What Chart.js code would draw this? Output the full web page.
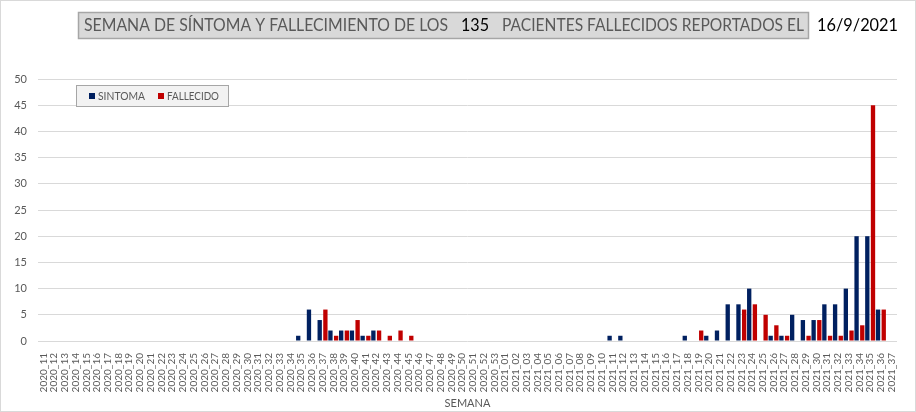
<!DOCTYPE html>
<html>
<head>
<meta charset="utf-8">
<script src="https://cdn.jsdelivr.net/npm/chart.js"></script>
<style>
  html, body { margin: 0; padding: 0; background: #fff; }
</style>
</head>
<body>
<canvas id="grafico" width="916" height="412"></canvas>
<script>
// semanas epidemiologicas (eje x)
const semanas = [
  '2020_11','2020_12','2020_13','2020_14','2020_15','2020_16','2020_17','2020_18','2020_19','2020_20',
  '2020_21','2020_22','2020_23','2020_24','2020_25','2020_26','2020_27','2020_28','2020_29','2020_30',
  '2020_31','2020_32','2020_33','2020_34','2020_35','2020_36','2020_37','2020_38','2020_39','2020_40',
  '2020_41','2020_42','2020_43','2020_44','2020_45','2020_46','2020_47','2020_48','2020_49','2020_50',
  '2020_51','2020_52','2020_53','2021_01','2021_02','2021_03','2021_04','2021_05','2021_06','2021_07',
  '2021_08','2021_09','2021_10','2021_11','2021_12','2021_13','2021_14','2021_15','2021_16','2021_17',
  '2021_18','2021_19','2021_20','2021_21','2021_22','2021_23','2021_24','2021_25','2021_26','2021_27',
  '2021_28','2021_29','2021_30','2021_31','2021_32','2021_33','2021_34','2021_35','2021_36','2021_37'
];

const sintoma = [
  0, 0, 0, 0, 0, 0, 0, 0, 0, 0,
  0, 0, 0, 0, 0, 0, 0, 0, 0, 0,
  0, 0, 0, 0, 1, 6, 4, 2, 2, 2,
  1, 2, 0, 0, 0, 0, 0, 0, 0, 0,
  0, 0, 0, 0, 0, 0, 0, 0, 0, 0,
  0, 0, 0, 1, 1, 0, 0, 0, 0, 0,
  1, 0, 1, 2, 7, 7, 10, 0, 1, 1,
  5, 4, 4, 7, 7, 10, 20, 20, 6, 0
];

const fallecido = [
  0, 0, 0, 0, 0, 0, 0, 0, 0, 0,
  0, 0, 0, 0, 0, 0, 0, 0, 0, 0,
  0, 0, 0, 0, 0, 0, 6, 1, 2, 4,
  1, 2, 1, 2, 1, 0, 0, 0, 0, 0,
  0, 0, 0, 0, 0, 0, 0, 0, 0, 0,
  0, 0, 0, 0, 0, 0, 0, 0, 0, 0,
  0, 2, 0, 0, 0, 6, 7, 5, 3, 1,
  0, 1, 4, 1, 1, 2, 3, 45, 6, 0
];

const totalPacientes = '135';
const fechaReporte = '16/9/2021';

const gris = '#595959';
const fuente = 'Lato';

// fondo, marco, titulo y leyenda dibujados a mano
const marco = {
  id: 'marco',
  beforeDraw(chart) {
    const c = chart.ctx;
    c.save();
    c.fillStyle = '#fff';
    c.fillRect(0, 0, chart.width, chart.height);
    c.strokeStyle = '#d9d9d9';
    c.lineWidth = 1;
    c.strokeRect(0.5, 0.5, chart.width - 1, chart.height - 1);
    c.restore();
  },
  afterDraw(chart) {
    const c = chart.ctx;
    c.save();
    // caja del titulo
    c.fillStyle = '#d9d9d9';
    c.fillRect(78, 12, 731, 26);
    c.strokeStyle = '#a6a6a6';
    c.lineWidth = 1.5;
    c.strokeRect(78.5, 12.5, 730, 26);
    c.textBaseline = 'middle';
    c.textAlign = 'left';
    c.font = '18px ' + fuente;
    c.fillStyle = gris;
    c.fillText('SEMANA DE SÍNTOMA Y FALLECIMIENTO DE LOS', 84, 25.5, 364);
    c.fillText('PACIENTES FALLECIDOS REPORTADOS EL', 502, 25.5, 302);
    c.fillStyle = '#000';
    c.fillText(totalPacientes, 461, 25.5, 28);
    c.fillText(fechaReporte, 817, 25.5, 81);

    // leyenda
    c.fillStyle = '#f2f2f2';
    c.fillRect(76, 85, 153, 22);
    c.strokeStyle = '#a6a6a6';
    c.lineWidth = 1;
    c.strokeRect(76.5, 85.5, 152, 21);
    const ds = chart.data.datasets;
    const items = [[89, 98, 47], [158, 167, 52]];
    c.font = '11px ' + fuente;
    items.forEach(function (it, i) {
      c.fillStyle = ds[i].backgroundColor;
      c.fillRect(it[0], 93, 6, 6);
      c.fillStyle = gris;
      c.fillText(ds[i].label, it[1], 96.5, it[2]);
    });
    c.restore();
  }
};

const ctx = document.getElementById('grafico');

new Chart(ctx, {
  type: 'bar',
  data: {
    labels: semanas,
    datasets: [
      { label: 'SINTOMA', data: sintoma, backgroundColor: '#002060' },
      { label: 'FALLECIDO', data: fallecido, backgroundColor: '#C00000' }
    ]
  },
  options: {
    responsive: false,
    animation: false,
    devicePixelRatio: 1,
    layout: { padding: { top: 79, right: 19, bottom: 2, left: 0 } },
    datasets: { bar: { categoryPercentage: 1.06, barPercentage: 0.76 } },
    plugins: {
      legend: { display: false },
      title: { display: false },
      tooltip: { enabled: false }
    },
    scales: {
      x: {
        grid: { display: false },
        border: { display: false },
        ticks: {
          autoSkip: false,
          minRotation: 90,
          maxRotation: 90,
          padding: 4,
          color: gris,
          font: { family: fuente, size: 10 }
        },
        title: {
          display: true,
          text: 'SEMANA',
          color: gris,
          padding: 0,
          font: { family: fuente, size: 11 }
        },
        afterFit(s) { s.height = 69; }
      },
      y: {
        min: 0,
        max: 50,
        ticks: {
          stepSize: 5,
          padding: 11,
          color: gris,
          font: { family: fuente, size: 11 }
        },
        grid: { color: '#d9d9d9', drawTicks: false },
        border: { display: false },
        afterFit(s) { s.width = 38; }
      }
    }
  },
  plugins: [marco]
});
</script>
</body>
</html>
